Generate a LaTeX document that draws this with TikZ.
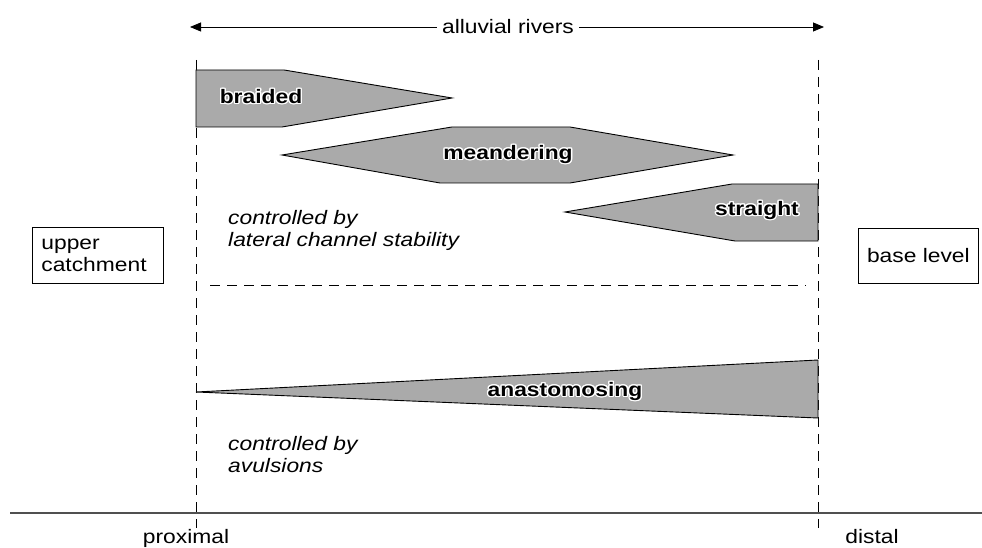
\documentclass[tikz,border=0pt]{standalone}
\usepackage{fontspec}
\setmainfont{Liberation Sans}[FakeStretch=1.17]
\usepackage{contour}
\contourlength{1.3pt}
\usetikzlibrary{arrows.meta, positioning}
\definecolor{riverfill}{RGB}{170,170,170}
\definecolor{axisgray}{RGB}{80,80,80}

\begin{document}
\begin{tikzpicture}[
    x=1pt, y=-1pt,
    every node/.style={font=\fontsize{19.5}{22}\selectfont, inner sep=0pt},
    channel/.style={draw=black, fill=riverfill, line width=0.9pt, line join=miter},
    label/.style={font=\fontsize{19.5}{22}\selectfont\bfseries},
    note/.style={font=\fontsize{19.5}{22.5}\selectfont\itshape, align=left, anchor=north west},
    endbox/.style={draw=black, line width=0.8pt, align=left, inner sep=0pt},
    guide/.style={dash pattern=on 10pt off 7pt, line width=0.8pt},
    arr/.style={-{Triangle[length=11pt, width=9pt]}, line width=0.8pt},
]
\useasboundingbox (0,0) rectangle (982,548);

% proximal / distal reference lines
\coordinate (proxtop) at (196,60);
\coordinate (proxbot) at (196,528);
\coordinate (disttop) at (818,60);
\coordinate (distbot) at (818,528);
\draw[guide] (proxtop) -- (proxbot);
\draw[guide] (disttop) -- (distbot);

% channel types
\draw[channel] (196,70) -- (284,70) -- (452,98) -- (282,127) -- (196,127) -- cycle;
\draw[channel] (282,155) -- (452,127) -- (570,127) -- (733,155) -- (570,183) -- (440,183) -- cycle;
\draw[channel] (565,212) -- (732,184) -- (818,184) -- (818,241) -- (735,241) -- cycle;
\draw[channel] (196,392) -- (818,360) -- (818,418) -- cycle;

\node[label] (braided) at (261,97) {\contour{white}{braided}};
\node[label] (meander) at (508,155) {\contour{white}{meandering}};
\node[label] (straight) at (757,211) {\contour{white}{straight}};
\node[label] (anasto) at (565,392) {\contour{white}{anastomosing}};

% separator
\coordinate (sepl) at (210,285);
\coordinate (sepr) at (806,285);
\draw[guide] (sepl) -- (sepr);

\node[note] (lateral) at (228,210) {controlled by\\lateral channel stability};
\node[note] (avuls) at (228,436) {controlled by\\avulsions};

% catchment and base level
\node[endbox, minimum width=123pt, minimum height=56pt, anchor=north west, text width=113pt, inner xsep=9pt] (upper) at (32,227) {upper\\catchment};
\node[endbox, minimum width=120pt, minimum height=55pt, anchor=north west] (base) at (858,228) {base level};

% alluvial rivers arrow
\node[inner xsep=5pt] (rivers) at (508,27) {alluvial rivers};
\coordinate (arrl) at (190,27);
\coordinate (arrr) at (824,27);
\draw[arr] (rivers.west) -- (arrl);
\draw[arr] (rivers.east) -- (arrr);

% axis
\coordinate (axl) at (10,513);
\coordinate (axr) at (982,513);
\draw[axisgray, line width=2.6pt] (axl) -- (axr);
\node[anchor=base] (proximal) at (186,543) {proximal};
\node[anchor=base] (distal) at (872,543) {distal};
\end{tikzpicture}
\end{document}
